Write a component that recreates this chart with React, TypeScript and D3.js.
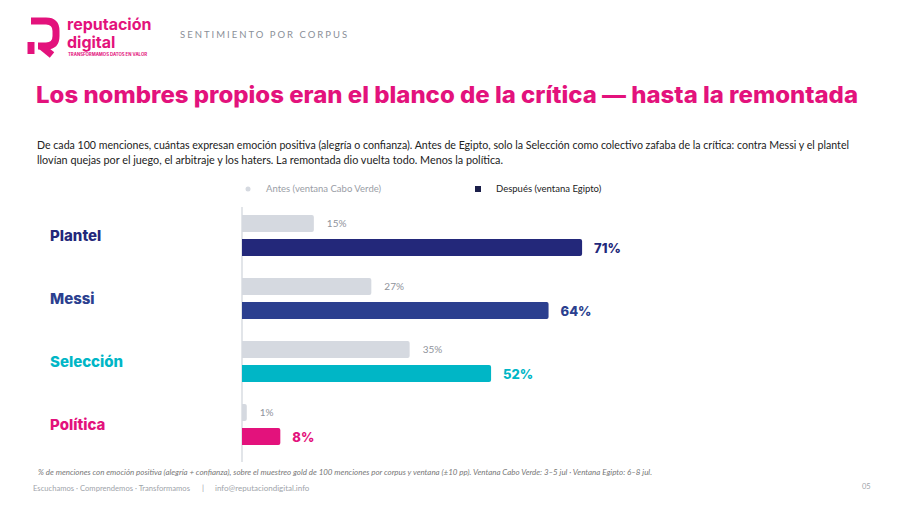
import React from "react";
import * as d3 from "d3";

const categories = ["Plantel", "Messi", "Selección", "Política"];
const antes = [15, 27, 35, 1];
const despues = [71, 64, 52, 8];
const colors = ["#23287a", "#2b3f8f", "#00b6c6", "#e3127c"];

const W = 900;
const H = 505;
const PINK = "#e3127c";
const HEAD_FONT = "Inter, 'Noto Sans', sans-serif";
const BODY_FONT = "Lato, 'Open Sans', sans-serif";

const App = () => {
  // horizontal value scale, 0–100 %
  const x = d3.scaleLinear().domain([0, 100]).range([242, 721]);
  // one band per category, two bars inside each band
  const y = d3.scaleBand().domain(categories).range([207, 459]).paddingInner(0).paddingOuter(0);
  const inner = d3.scaleBand().domain(["antes", "despues"]).range([8, 49]).paddingInner(0.3);
  const barH = inner.bandwidth();

  const rows = categories.map((c, i) => ({ c, antes: antes[i], despues: despues[i], color: colors[i] }));

  const roundBar = (x0: number, x1: number, yy: number, h: number, r = 2) => {
    const w = Math.max(x1 - x0, r);
    return `M${x0},${yy}H${x0 + w - r}Q${x0 + w},${yy} ${x0 + w},${yy + r}V${yy + h - r}Q${x0 + w},${yy + h} ${x0 + w - r},${yy + h}H${x0}Z`;
  };

  return (
    <svg width={W} height={H} style={{ position: "absolute", left: 0, top: 0, background: "#fff" }}>
      {/* logo */}
      <g fill="none" stroke={PINK} strokeWidth={7}>
        <path d="M31,21 H46 Q56,21 56,31 V36 Q56,46 46,46 H38" />
        <path d="M31,42 V54" />
        <path d="M41,46 L52,55" strokeLinecap="butt" />
      </g>
      <text fill={PINK} fontFamily={HEAD_FONT} fontWeight={700} fontSize={16}>
        <tspan x={67} y={30}>reputación</tspan>
        <tspan x={67} y={47.5}>digital</tspan>
      </text>
      <text x={68} y={56} fill={PINK} fontFamily={HEAD_FONT} fontWeight={700} fontSize={4.3}>
        TRANSFORMAMOS DATOS EN VALOR
      </text>
      <text x={180} y={38} fill="#8a8f98" fontFamily={BODY_FONT} fontSize={9.5} letterSpacing={2}>
        SENTIMIENTO POR CORPUS
      </text>

      {/* title and lead */}
      <text x={36} y={103} fill={PINK} fontFamily={HEAD_FONT} fontWeight={800} fontSize={23} textLength={822} lengthAdjust="spacingAndGlyphs">
        Los nombres propios eran el blanco de la crítica — hasta la remontada
      </text>
      <text x={37} y={149} fill="#222" fontFamily={BODY_FONT} fontSize={10.8} textLength={812} lengthAdjust="spacingAndGlyphs">
        De cada 100 menciones, cuántas expresan emoción positiva (alegría o confianza). Antes de Egipto, solo la Selección como colectivo zafaba de la crítica: contra Messi y el plantel
      </text>
      <text x={37} y={164} fill="#222" fontFamily={BODY_FONT} fontSize={10.8}>
        llovían quejas por el juego, el arbitraje y los haters. La remontada dio vuelta todo. Menos la política.
      </text>

      {/* legend */}
      <circle cx={248} cy={189} r={2.5} fill="#d5d9e0" />
      <text x={266} y={192} fill="#9a9ea6" fontFamily={BODY_FONT} fontSize={9.5}>
        Antes (ventana Cabo Verde)
      </text>
      <rect x={475} y={186} width={6} height={6} fill="#1b1f4a" />
      <text x={496} y={192} fill="#222" fontFamily={BODY_FONT} fontSize={9.5}>
        Después (ventana Egipto)
      </text>

      {/* baseline */}
      <line x1={x(0)} x2={x(0)} y1={207} y2={462} stroke="#d9dce2" strokeWidth={1.5} />

      {rows.map((d) => {
        const y0 = y(d.c)!;
        const ya = y0 + inner("antes")!;
        const yd = y0 + inner("despues")!;
        return (
          <g key={d.c}>
            <text x={50} y={y0 + 34} fill={d.color} fontFamily={HEAD_FONT} fontWeight={800} fontSize={15}>
              {d.c}
            </text>
            <path d={roundBar(x(0), x(d.antes), ya, barH)} fill="#d5d9e0" />
            <text x={x(d.antes) + 13} y={ya + barH / 2 + 3.5} fill="#8f939b" fontFamily={BODY_FONT} fontSize={10}>
              {d.antes}%
            </text>
            <path d={roundBar(x(0), x(d.despues), yd, barH)} fill={d.color} />
            <text x={x(d.despues) + 12} y={yd + barH / 2 + 5} fill={d.color} fontFamily={HEAD_FONT} fontWeight={800} fontSize={13}>
              {d.despues}%
            </text>
          </g>
        );
      })}

      {/* footer */}
      <text x={38} y={475} fill="#777" fontFamily={BODY_FONT} fontStyle="italic" fontSize={8} textLength={614} lengthAdjust="spacingAndGlyphs">
        % de menciones con emoción positiva (alegría + confianza), sobre el muestreo gold de 100 menciones por corpus y ventana (±10 pp). Ventana Cabo Verde: 3–5 jul · Ventana Egipto: 6–8 jul.
      </text>
      <text x={33} y={491} fill="#a0a4aa" fontFamily={BODY_FONT} fontSize={8} textLength={157} lengthAdjust="spacingAndGlyphs">
        Escuchamos · Comprendemos · Transformamos
      </text>
      <text x={202} y={491} fill="#a0a4aa" fontFamily={BODY_FONT} fontSize={8}>
        |
      </text>
      <text x={215} y={491} fill="#a0a4aa" fontFamily={BODY_FONT} fontSize={8}>
        info@reputaciondigital.info
      </text>
      <text x={862} y={489} fill="#a0a4aa" fontFamily={BODY_FONT} fontSize={7.5}>
        05
      </text>
    </svg>
  );
};

export default App;
